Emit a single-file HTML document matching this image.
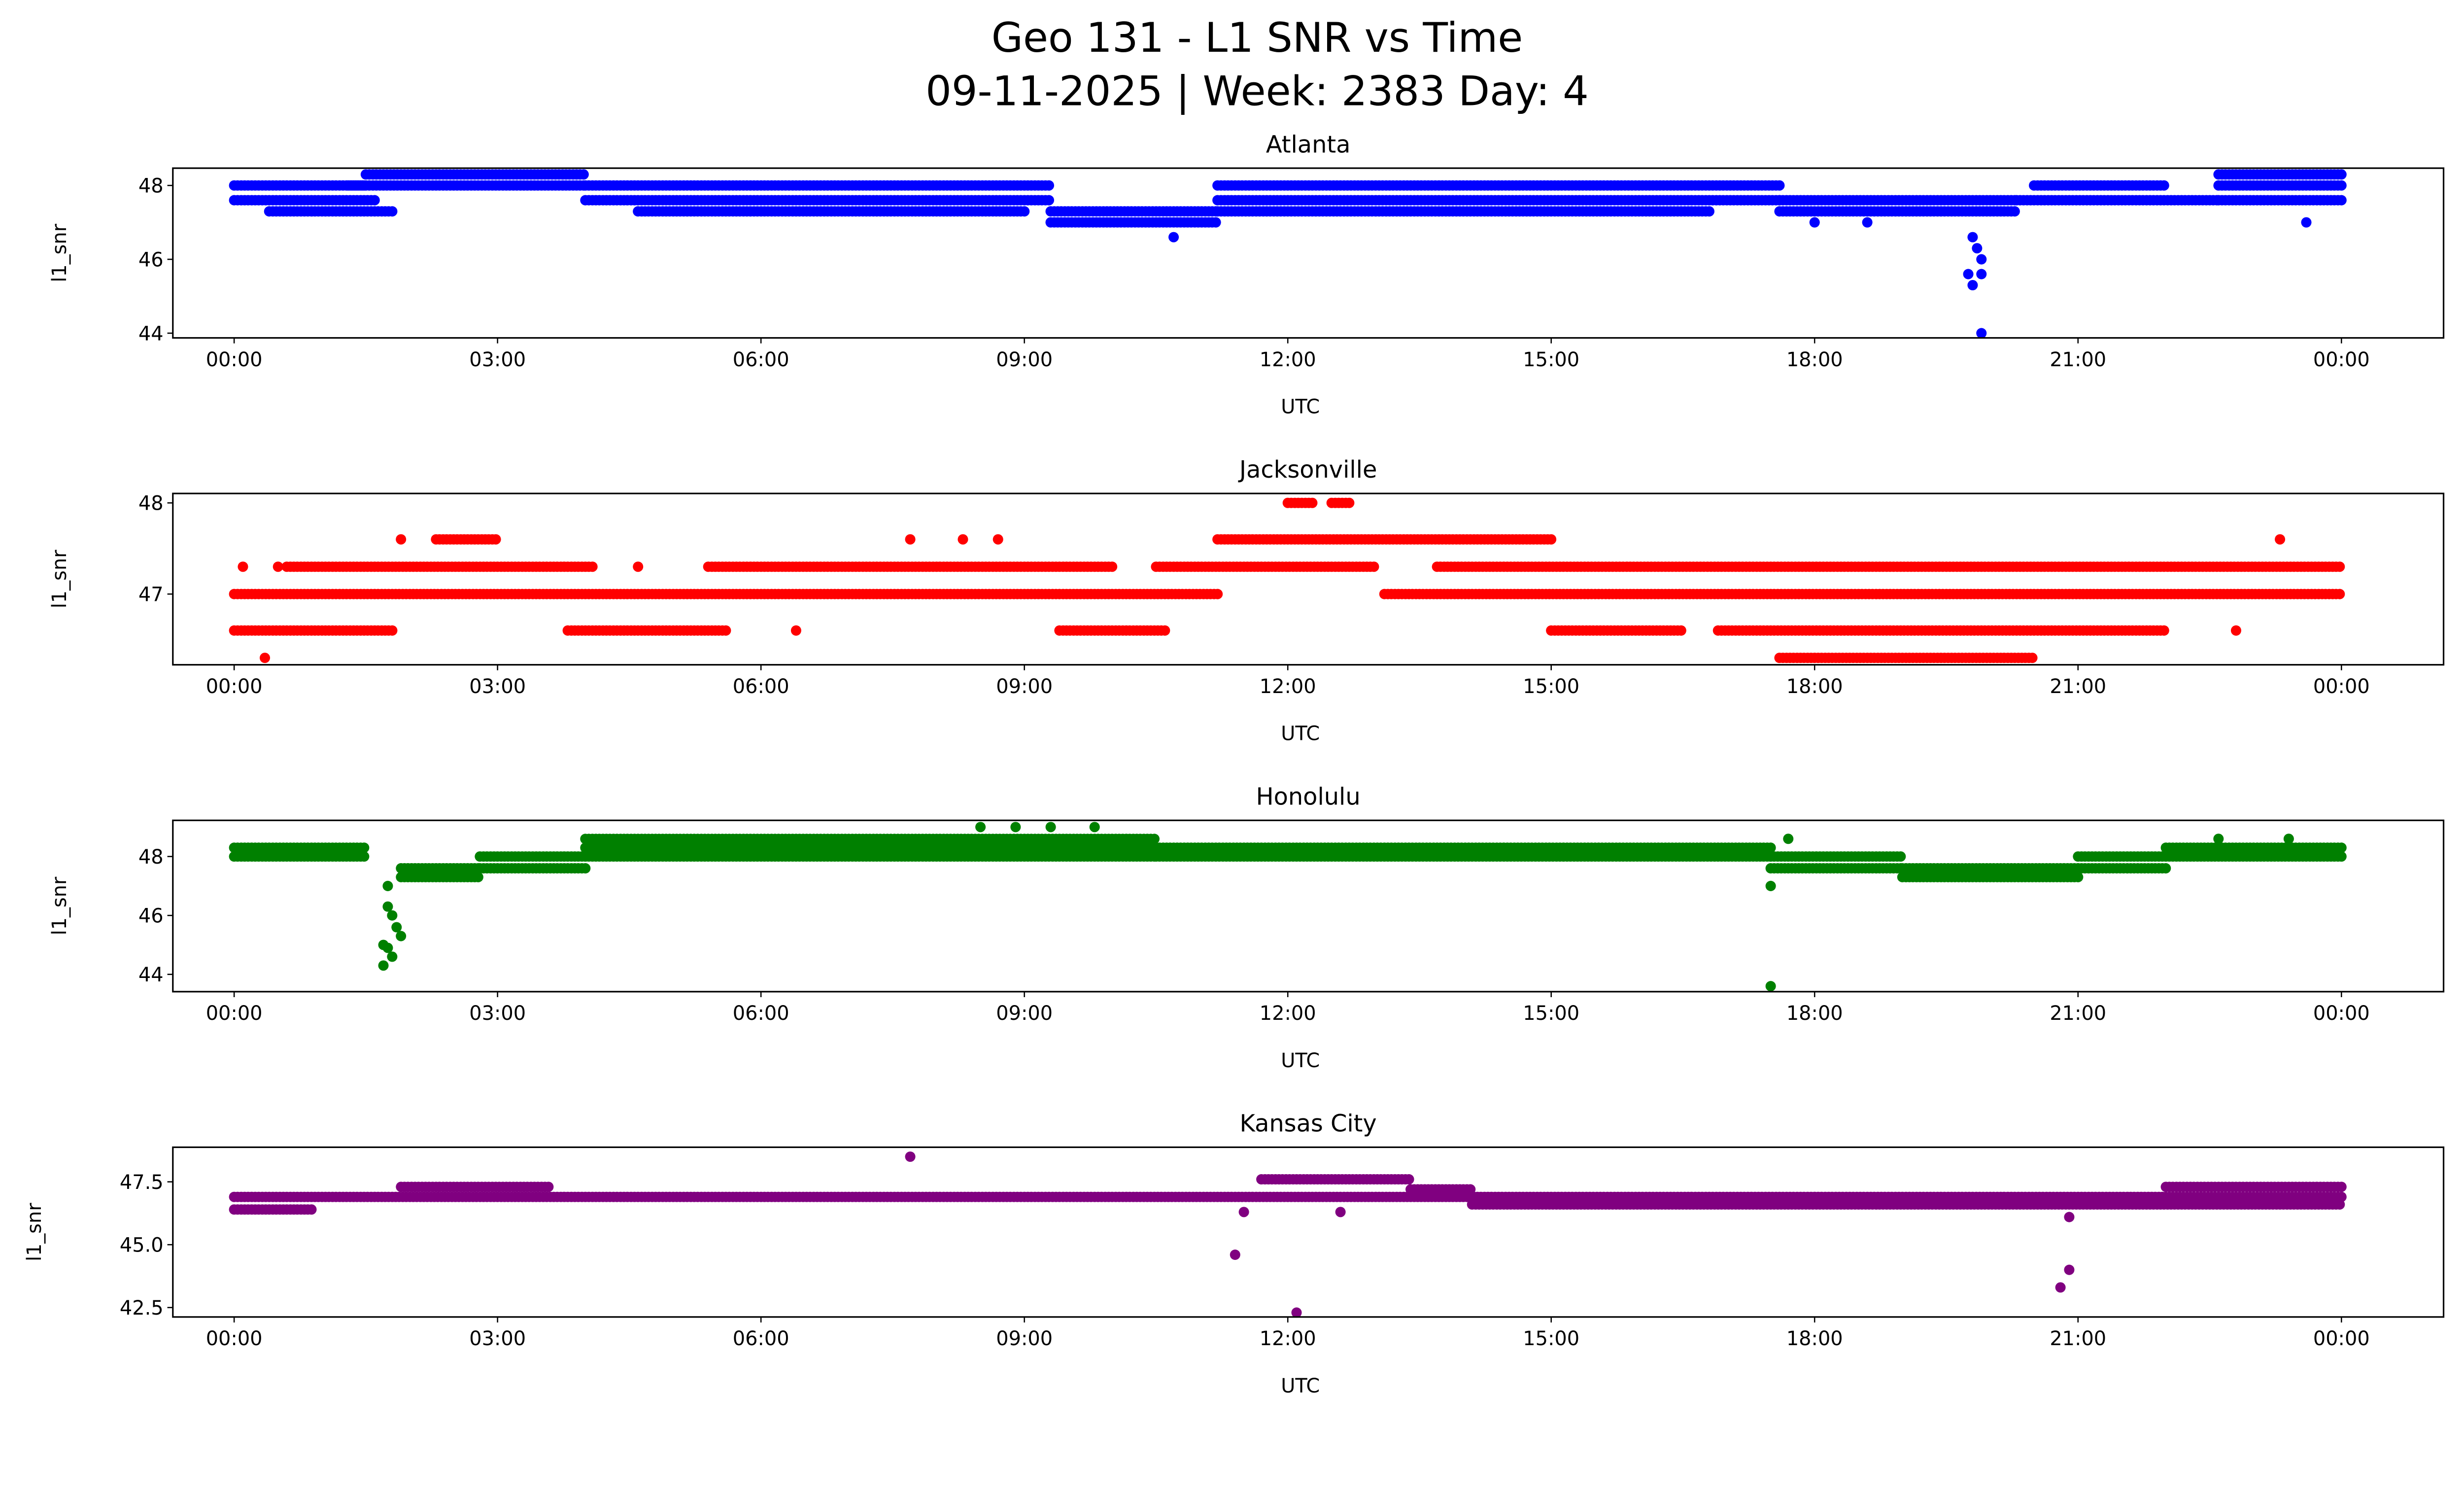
<!DOCTYPE html>
<html><head><meta charset="utf-8"><style>
html,body{margin:0;padding:0;background:#fff;overflow:hidden}
svg{display:block;width:100vw;height:calc(100vw * 3033 / 5279)}
text{font-family:"DejaVu Sans","Liberation Sans",sans-serif;fill:#000}
</style></head><body>
<svg id="chart" viewBox="0 0 1568 901" preserveAspectRatio="none" xmlns="http://www.w3.org/2000/svg">
<text x="800" y="33" font-size="26" text-anchor="middle">Geo 131 - L1 SNR vs Time</text>
<text x="800" y="67" font-size="26" text-anchor="middle">09-11-2025 | Week: 2383 Day: 4</text>
</svg>
<script>
// x-axis ticks (hours)
const tickHours=[0,3,6,9,12,15,18,21,24];
const tickLabels=["00:00","03:00","06:00","09:00","12:00","15:00","18:00","21:00","00:00"];
// Atlanta runs [start hour, end hour, value]
const atlStart=[0,0,0.4,1.5,1.3,4.0,4.0,4.6,9.3,9.3,11.2,11.2,11.2,17.6,17.6,20.3,20.5,22.6,22.6,22.6];
const atlEnd  =[1.5,1.6,1.8,4.0,4.0,9.3,9.3,9.0,11.2,11.2,17.6,17.6,16.8,20.3,20.3,22.6,22.0,24,24,24];
const atlVal  =[48.0,47.6,47.3,48.3,48.0,48.0,47.6,47.3,47.3,47.0,48.0,47.6,47.3,47.6,47.3,47.6,48.0,48.3,48.0,47.6];
const atlOutT=[10.7,18.0,18.6,19.8,19.85,19.75,19.9,19.8,19.9,19.9,23.6];
const atlOutV=[46.6,47.0,47.0,46.6,46.3,45.6,45.6,45.3,44.0,46.0,47.0];
// Jacksonville runs
const jaxStart=[0,13.1,0.6,5.4,10.5,13.7,0,3.8,9.4,16.9,15.0,2.3,11.2,12.0,12.5,17.6];
const jaxEnd  =[11.2,24,4.1,10.0,13.0,24,1.8,5.6,10.6,22.0,16.5,3.0,15.0,12.3,12.7,20.5];
const jaxVal  =[47.0,47.0,47.3,47.3,47.3,47.3,46.6,46.6,46.6,46.6,46.6,47.6,47.6,48.0,48.0,46.3];
const jaxOutT=[0.35,1.9,7.7,8.3,8.7,22.8,23.3,0.1,0.5,4.6,6.4];
const jaxOutV=[46.3,47.6,47.6,47.6,47.6,46.6,47.6,47.3,47.3,47.3,46.6];
// Honolulu runs
const honStart=[0,0,1.9,1.9,2.8,2.8,4.0,4.0,4.0,10.5,10.5,17.5,17.5,19.0,19.0,21.0,21.0,22.0,22.0];
const honEnd  =[1.5,1.5,2.8,2.8,4.0,4.0,10.5,10.5,10.5,17.5,17.5,19.0,19.0,21.0,21.0,22.0,22.0,24,24];
const honVal  =[48.3,48.0,47.6,47.3,48.0,47.6,48.6,48.3,48.0,48.3,48.0,48.0,47.6,47.6,47.3,48.0,47.6,48.3,48.0];
const honOutT=[1.75,1.75,1.8,1.7,1.85,1.9,1.8,1.75,1.7,17.5,17.5,8.5,8.9,9.3,9.8,17.7,22.6,23.4];
const honOutV=[47.0,46.3,46.0,45.0,45.6,45.3,44.6,44.9,44.3,47.0,43.6,49.0,49.0,49.0,49.0,48.6,48.6,48.6];
// Kansas City runs
const kcStart=[0,0,1.9,11.7,13.4,14.1,22.0];
const kcEnd  =[24,0.9,3.6,13.4,14.1,24,24];
const kcVal  =[46.9,46.4,47.3,47.6,47.2,46.6,47.3];
const kcOutT=[7.7,11.4,12.1,20.8,20.9,12.6,11.5,20.9];
const kcOutV=[48.5,44.6,42.3,43.3,44.0,46.3,46.3,46.1];

const NS="http://www.w3.org/2000/svg";
const svg=document.getElementById('chart');
function mk(tag,attrs,parent){const e=document.createElementNS(NS,tag);for(const k in attrs)e.setAttribute(k,attrs[k]);(parent||svg).appendChild(e);return e;}
const xL=110,xR=1555;
function xS(h){return 149+h*55.875;}

const panels=[
 {name:'atlanta',title:'Atlanta',top:107,bot:215,ref:48,refY:118,ppu:23.5,ticks:[44,46,48],tl:['44','46','48'],color:'#0000ff',s:atlStart,e:atlEnd,v:atlVal,ot:atlOutT,ov:atlOutV},
 {name:'jacksonville',title:'Jacksonville',top:314,bot:423,ref:47,refY:378,ppu:58,ticks:[47,48],tl:['47','48'],color:'#ff0000',s:jaxStart,e:jaxEnd,v:jaxVal,ot:jaxOutT,ov:jaxOutV},
 {name:'honolulu',title:'Honolulu',top:522,bot:631,ref:48,refY:545,ppu:18.75,ticks:[44,46,48],tl:['44','46','48'],color:'#008000',s:honStart,e:honEnd,v:honVal,ot:honOutT,ov:honOutV},
 {name:'kansas-city',title:'Kansas City',top:730,bot:838,ref:47.5,refY:752,ppu:16,ticks:[42.5,45,47.5],tl:['42.5','45.0','47.5'],color:'#800080',s:kcStart,e:kcEnd,v:kcVal,ot:kcOutT,ov:kcOutV}
];
panels.forEach(p=>{
 const g=mk('g',{});
 
 
 const yS=v=>p.refY+(p.ref-v)*p.ppu;
 const pts=mk('g',{fill:p.color},g);
 
 
 for(let i=0;i<p.s.length;i++){
  for(let t=p.s[i];t<=p.e[i]+1e-6;t+=0.04){
   mk('circle',{cx:xS(t).toFixed(1),cy:yS(p.v[i]).toFixed(1),r:3.3},pts);
  }
 }
 for(let i=0;i<p.ot.length;i++){
  const c=mk('circle',{cx:xS(p.ot[i]),cy:yS(p.ov[i]),r:3.3},pts);
  
  
 }
 const fr=mk('rect',{x:xL,y:p.top,width:xR-xL,height:p.bot-p.top,fill:'none',stroke:'#000','stroke-width':1},g);
 
 
 tickHours.forEach((h,i)=>{
  mk('line',{x1:xS(h),x2:xS(h),y1:p.bot,y2:p.bot+3.5,stroke:'#000','stroke-width':0.8},g);
  const t=mk('text',{x:xS(h),y:p.bot+18,'font-size':12.5,'text-anchor':'middle'},g);
  t.textContent=tickLabels[i];
  
  
 });
 p.ticks.forEach((v,i)=>{
  mk('line',{x1:xL-3.5,x2:xL,y1:yS(v),y2:yS(v),stroke:'#000','stroke-width':0.8},g);
  const t=mk('text',{x:xL-6,y:yS(v)+4.5,'font-size':12.5,'text-anchor':'end'},g);
  t.textContent=p.tl[i];
  
  
 });
 const ti=mk('text',{x:(xL+xR)/2,y:p.top-10,'font-size':15,'text-anchor':'middle'},g);
 ti.textContent=p.title;
 
 
 const xl=mk('text',{x:(xL+xR)/2-5,y:p.bot+48,'font-size':12.5,'text-anchor':'middle'},g);
 xl.textContent='UTC';
 
 
 const yc=(p.top+p.bot)/2, yx=p.name==='kansas-city'?26:42;
 const yl=mk('text',{x:yx,y:yc,'font-size':12.5,'text-anchor':'middle',transform:`rotate(-90 ${yx} ${yc})`},g);
 yl.textContent='l1_snr';
 
 
});
</script>
</body></html>
